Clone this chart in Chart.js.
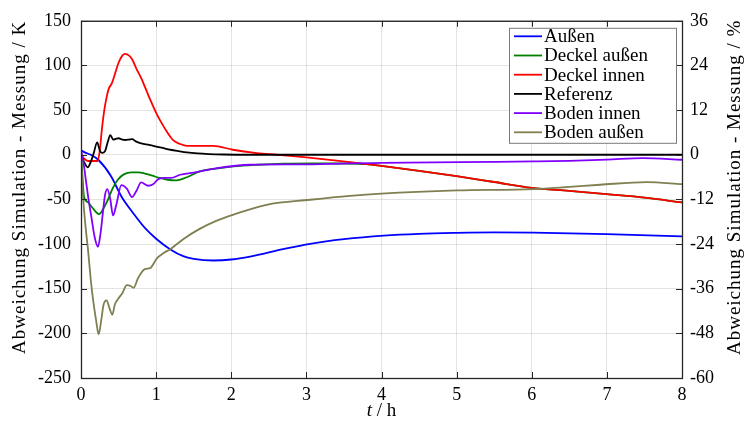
<!DOCTYPE html>
<html>
<head>
<meta charset="utf-8">
<script src="https://cdn.jsdelivr.net/npm/chart.js@4"></script>
<style>
  body { margin: 0; background: #fff; }
  canvas { display: block; }
</style>
</head>
<body>
<canvas id="chart" width="744" height="423"></canvas>
<script>
// Abweichung Simulation - Messung in K over t in h
const aussenT = [0, 0.05, 0.13, 0.23, 0.4, 0.54, 0.7, 0.85, 1.0, 1.185, 1.36, 1.5, 1.76, 2.0, 2.25, 2.69, 3.05, 3.5, 4.03, 4.5, 5.0, 5.5, 6.02, 7.0, 8.0];
const aussenK = [5, 2.6, 0, -5.6, -24, -47, -66, -82, -94, -105.7, -113.5, -116.5, -118.4, -117.3, -114, -105.7, -99.7, -94.5, -90.5, -88.5, -87.5, -87, -87.2, -88.9, -91.5];

const deckelAussenT = [0, 0.02, 0.04, 0.09, 0.14, 0.24, 0.3, 0.36, 0.42, 0.49, 0.57, 0.67, 0.76, 0.85, 0.95, 1.05, 1.15, 1.27, 1.4, 1.58, 1.8, 2.03, 2.35, 2.7, 3.1, 3.5, 3.8, 4.0, 4.5, 5.0, 5.5, 6.0, 6.5, 7.0, 7.5, 8.0];
const deckelAussenK = [2, -25, -47, -53, -58, -66.5, -60, -50, -38, -28, -22, -19.8, -19.8, -21, -23.5, -26, -28, -28.8, -25.5, -18.7, -15.5, -13, -11.2, -10, -9.7, -9.8, -10.5, -12.5, -18, -24, -30.5, -37, -40.5, -44.2, -48, -53.4];

const deckelInnenT = [0, 0.05, 0.1, 0.17, 0.22, 0.25, 0.28, 0.31, 0.34, 0.37, 0.41, 0.45, 0.5, 0.55, 0.59, 0.64, 0.68, 0.74, 0.8, 0.87, 0.93, 1.0, 1.07, 1.15, 1.23, 1.32, 1.41, 1.55, 1.76, 2.02, 2.34, 2.6, 3.0, 3.4, 3.8, 4.0, 4.5, 5.0, 5.5, 6.0, 6.5, 7.0, 7.5, 8.0];
const deckelInnenK = [0, -5, -7, -7, -7, 5, 30, 50, 64, 74, 80, 90, 103, 111, 113, 111, 107, 96, 86, 72, 60, 47, 36, 25, 16, 12, 10, 10, 10, 5.6, 1.9, 0, -3, -6.5, -10.5, -12.5, -18, -24, -30.5, -37, -40.5, -44.2, -48, -53.4];

const referenzT = [0, 0.04, 0.09, 0.13, 0.17, 0.215, 0.25, 0.28, 0.32, 0.355, 0.39, 0.43, 0.47, 0.5, 0.55, 0.59, 0.64, 0.68, 0.73, 0.79, 0.87, 0.96, 1.07, 1.19, 1.3, 1.41, 1.55, 1.7, 1.9, 2.2, 2.5, 3.0, 8.0];
const referenzK = [0, -8, -14, -8, 2, 13.8, 5, 2, 4, 14, 22, 17, 18, 18.5, 17, 16.5, 17, 17.5, 15, 13, 11.5, 10, 8, 5.6, 4, 2.6, 1.5, 0.8, 0.3, 0, 0, 0, 0];

const bodenInnenT = [0, 0.035, 0.07, 0.1, 0.137, 0.18, 0.226, 0.26, 0.29, 0.32, 0.35, 0.39, 0.426, 0.47, 0.537, 0.61, 0.68, 0.74, 0.8, 0.89, 0.96, 1.03, 1.12, 1.2, 1.32, 1.5, 1.81, 2.25, 2.92, 3.58, 4.0, 4.69, 5.5, 6.02, 6.5, 7.0, 7.48, 8.0];
const bodenInnenK = [5.6, -10, -31.7, -50, -69, -91.5, -103, -88, -66, -45, -38.5, -50, -68, -56, -34, -38, -47.4, -40, -31, -34.7, -33, -27.3, -26, -26, -22.4, -20, -15, -11.2, -10.8, -9.6, -9.2, -8.6, -8, -7.5, -6.8, -5.5, -3.7, -5.6];

const bodenAussenT = [0, 0.03, 0.06, 0.093, 0.13, 0.16, 0.2, 0.235, 0.27, 0.3, 0.34, 0.38, 0.417, 0.45, 0.497, 0.55, 0.61, 0.66, 0.7, 0.76, 0.85, 0.92, 1.01, 1.1, 1.185, 1.36, 1.58, 1.8, 2.03, 2.47, 3.05, 3.58, 4.0, 5.0, 6.02, 6.5, 6.91, 7.53, 8.0];
const bodenAussenK = [0, -50, -80, -106, -140, -162, -185, -201, -185, -168, -163, -172, -179, -168, -161, -155, -146, -147, -149, -138, -128, -127, -116, -110, -106, -94.5, -83, -74, -67, -56, -50.4, -46, -43.5, -40, -38.5, -36, -33.6, -30.6, -32.9];

const seriesNames = ["Außen", "Deckel außen", "Deckel innen", "Referenz", "Boden innen", "Boden außen"];
const seriesColors = ["#0000ff", "#008000", "#ff0000", "#000000", "#8000ff", "#7f7f52"];

const FONT = "'Liberation Serif', 'DejaVu Serif', serif";
const AXIS = "#262626";

function pts(t, v) {
  return t.map((x, i) => ({ x: x, y: v[i] }));
}

const allSeries = [
  pts(aussenT, aussenK),
  pts(deckelAussenT, deckelAussenK),
  pts(deckelInnenT, deckelInnenK),
  pts(referenzT, referenzK),
  pts(bodenInnenT, bodenInnenK),
  pts(bodenAussenT, bodenAussenK),
];

const datasets = allSeries.map((data, i) => ({
  label: seriesNames[i],
  data: data,
  borderColor: seriesColors[i],
  backgroundColor: seriesColors[i],
  borderWidth: 1.8,
  pointRadius: 0,
  cubicInterpolationMode: "monotone",
  order: 6 - i, // later series drawn on top
  yAxisID: "y",
}));

const framePlugin = {
  id: "frame",
  afterDraw(chart) {
    const { ctx, chartArea: a, scales } = chart;
    ctx.save();

    // inward ticks
    ctx.strokeStyle = AXIS;
    ctx.lineWidth = 1;
    ctx.beginPath();
    scales.x.ticks.forEach((t) => {
      const px = Math.round(scales.x.getPixelForValue(t.value)) + 0.5;
      ctx.moveTo(px, a.bottom); ctx.lineTo(px, a.bottom - 6);
      ctx.moveTo(px, a.top); ctx.lineTo(px, a.top + 6);
    });
    scales.y.ticks.forEach((t) => {
      const py = Math.round(scales.y.getPixelForValue(t.value)) + 0.5;
      ctx.moveTo(a.left, py); ctx.lineTo(a.left + 6, py);
    });
    scales.y2.ticks.forEach((t) => {
      const py = Math.round(scales.y2.getPixelForValue(t.value)) + 0.5;
      ctx.moveTo(a.right, py); ctx.lineTo(a.right - 6, py);
    });
    ctx.stroke();
    ctx.lineWidth = 1.3;
    ctx.strokeRect(a.left + 0.5, a.top + 0.5, a.right - a.left, a.bottom - a.top);

    // axis titles
    ctx.fillStyle = "#000";
    ctx.textBaseline = "middle";
    ctx.textAlign = "center";
    ctx.font = "19px " + FONT;
    ctx.letterSpacing = "1px";
    const midY = (a.top + a.bottom) / 2 - 12;
    ctx.save();
    ctx.translate(20, midY);
    ctx.rotate(-Math.PI / 2);
    ctx.fillText("Abweichung Simulation - Messung / K", 0, 0);
    ctx.restore();
    ctx.save();
    ctx.translate(735, midY);
    ctx.rotate(-Math.PI / 2);
    ctx.fillText("Abweichung Simulation - Messung / %", 0, 0);
    ctx.restore();
    ctx.letterSpacing = "0px";

    ctx.textAlign = "left";
    ctx.font = "italic 19px " + FONT;
    const wT = ctx.measureText("t").width;
    ctx.font = "19px " + FONT;
    const wRest = ctx.measureText(" / h").width;
    const x0 = (a.left + a.right) / 2 - (wT + wRest) / 2;
    ctx.font = "italic 19px " + FONT;
    ctx.fillText("t", x0, 411);
    ctx.font = "19px " + FONT;
    ctx.fillText(" / h", x0 + wT, 411);

    // legend
    const bx = a.right - 173, by = a.top + 7, bw = 167, bh = 115;
    ctx.fillStyle = "#fff";
    ctx.fillRect(bx, by, bw, bh);
    ctx.strokeStyle = "#7a7a7a";
    ctx.lineWidth = 1;
    ctx.strokeRect(bx + 0.5, by + 0.5, bw, bh);
    chart.data.datasets.forEach((ds, i) => {
      const yy = by + 8.5 + i * 19.2;
      ctx.strokeStyle = ds.borderColor;
      ctx.lineWidth = 1.8;
      ctx.beginPath();
      ctx.moveTo(bx + 5, yy);
      ctx.lineTo(bx + 33, yy);
      ctx.stroke();
      ctx.fillStyle = "#000";
      ctx.fillText(ds.label, bx + 35, yy + 1);
    });
    ctx.restore();
  },
};

new Chart(document.getElementById("chart"), {
  type: "line",
  data: { datasets: datasets },
  options: {
    responsive: false,
    animation: false,
    layout: { padding: { top: 20, left: 0, right: 0, bottom: 0 } },
    plugins: { legend: { display: false }, tooltip: { enabled: false } },
    scales: {
      x: {
        type: "linear",
        min: 0,
        max: 8,
        ticks: { stepSize: 1, padding: 6, color: "#000", font: { family: FONT, size: 18 }, maxRotation: 0 },
        grid: { color: "rgba(38,38,38,0.13)", drawTicks: false },
        border: { display: false },
        afterFit: (s) => { s.height = 45; },
      },
      y: {
        position: "left",
        min: -250,
        max: 150,
        ticks: { stepSize: 50, padding: 10, color: "#000", font: { family: FONT, size: 18 } },
        grid: { color: "rgba(38,38,38,0.13)", drawTicks: false },
        border: { display: false },
        afterFit: (s) => { s.width = 81; },
      },
      y2: {
        position: "right",
        min: -60,
        max: 36,
        ticks: { stepSize: 12, padding: 8, color: "#000", font: { family: FONT, size: 18 } },
        grid: { display: false, drawTicks: false },
        border: { display: false },
        afterFit: (s) => { s.width = 62; },
      },
    },
  },
  plugins: [framePlugin],
});
</script>
</body>
</html>
